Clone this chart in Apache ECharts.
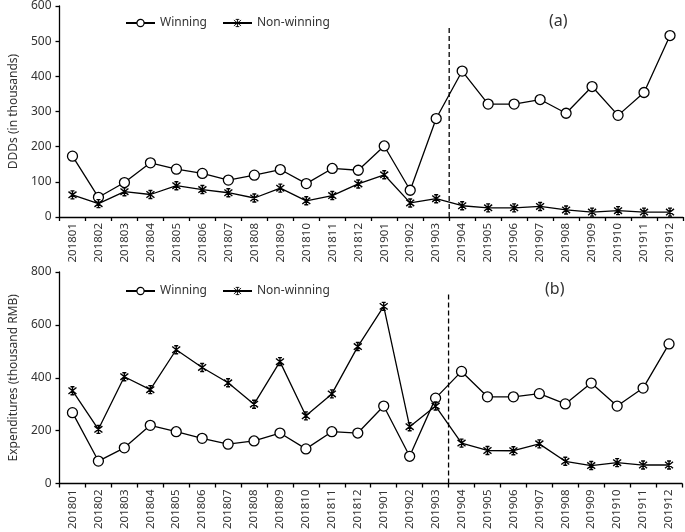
<!DOCTYPE html>
<html><head><meta charset="utf-8">
<script src="https://cdn.jsdelivr.net/npm/echarts@6/dist/echarts.min.js"></script>
<style>html,body{margin:0;padding:0;background:#fff}#c{width:685px;height:532px}</style>
</head><body><div id="c"></div>
<script>
const months = ['201801','201802','201803','201804','201805','201806','201807','201808','201809','201810','201811','201812',
  '201901','201902','201903','201904','201905','201906','201907','201908','201909','201910','201911','201912'];
const dddWinning = [173,56,98,154,136,124,105,119,135,95,138,133,202,76,280,415,321,321,334,295,371,289,354,516];
const dddNonWinning = [63,38,72,64,89,78,69,54,82,46,61,94,120,40,52,32,26,26,30,20,14,18,14,14];
const expWinning = [268,85,135,220,196,171,149,161,191,131,196,191,293,103,323,424,328,328,340,301,380,293,361,528];
const expNonWinning = [351,205,404,355,506,439,381,300,461,256,339,518,670,215,293,153,125,124,150,84,68,79,70,70];
const cutTop = [[15,0],[15,542]];
const cutBottom = [[15,0],[15,722]];

const font = 'Noto Sans';
const txt = '#333';
const star = 'path://M1 1 L9 9 M9 1 L1 9 M5 0 L5 10 M3 0 L7 0 M3 10 L7 10';
function catAxis(gi){
  return {type:'category', gridIndex:gi, data:months, boundaryGap:true,
    axisLine:{lineStyle:{color:'#000',width:1.3}},
    axisTick:{show:true,length:4,lineStyle:{color:'#000',width:1.3},alignWithLabel:false},
    axisLabel:{rotate:90,color:txt,fontFamily:font,fontSize:11.5,margin:6,interval:0}};
}
function valAxisHidden(gi){
  return {type:'value', gridIndex:gi, min:0, max:24, show:false};
}
function yAxis(gi,max,interval,name){
  return {type:'value', gridIndex:gi, min:0, max:max, interval:interval, name:name,
    nameLocation:'middle', nameGap:36, nameTextStyle:{color:txt,fontFamily:font,fontSize:12},
    splitLine:{show:false},
    axisLine:{show:true,lineStyle:{color:'#000',width:1.3}},
    axisTick:{show:true,length:4,lineStyle:{color:'#000',width:1.3}},
    axisLabel:{color:txt,fontFamily:font,fontSize:12,margin:8}};
}
function lineSeries(name,data,xi,yi,isStar){
  return {type:'line', name:name, data:data, xAxisIndex:xi, yAxisIndex:yi,
    symbol: isStar? star : 'circle', symbolSize: isStar? 8 : 10,
    lineStyle:{color:'#000',width:1.3},
    itemStyle: isStar? {color:'rgba(0,0,0,0)',borderColor:'#000',borderWidth:1.4} : {color:'#fff',borderColor:'#000',borderWidth:1.3},
    animation:false, z:3};
}
function cutSeries(data,xi,yi){
  return {type:'line', data:data, xAxisIndex:xi, yAxisIndex:yi, symbol:'none',
    lineStyle:{color:'#000',width:1.3,type:[5,3]}, silent:true, animation:false, z:2};
}
function legend(top){
  return {top:top, left:120, itemWidth:29, itemHeight:9, itemGap:15,
    data:[{name:'Winning', itemStyle:{color:'#fff',borderColor:'#000',borderWidth:1.2}},
          {name:'Non-winning', itemStyle:{color:'rgba(0,0,0,0)',borderColor:'#000',borderWidth:0.9}}],
    selectedMode:false,
    textStyle:{color:txt,fontFamily:font,fontSize:12}};
}
const chart = echarts.init(document.getElementById('c'),null,{renderer:'canvas'});
chart.setOption({
  backgroundColor:'#fff',
  animation:false,
  grid:[{left:53,right:2,top:6,height:211},{left:52,right:3,top:272,height:214}],
  legend:[legend(12),legend(280)],
  title:[{text:'(a)',left:544,top:8,textStyle:{fontFamily:font,fontSize:16,fontWeight:'normal',color:txt}},
         {text:'(b)',left:540,top:276,textStyle:{fontFamily:font,fontSize:16,fontWeight:'normal',color:txt}}],
  xAxis:[catAxis(0),catAxis(1),valAxisHidden(0),valAxisHidden(1)],
  yAxis:[yAxis(0,600,100,'DDDs (in thousands)'),yAxis(1,800,200,'Expenditures (thousand RMB)')],
  series:[
    lineSeries('Winning',dddWinning,0,0,false),
    lineSeries('Non-winning',dddNonWinning,0,0,true),
    lineSeries('Winning',expWinning,1,1,false),
    lineSeries('Non-winning',expNonWinning,1,1,true),
    cutSeries(cutTop,2,0),
    cutSeries(cutBottom,3,1)
  ]
});
</script></body></html>
